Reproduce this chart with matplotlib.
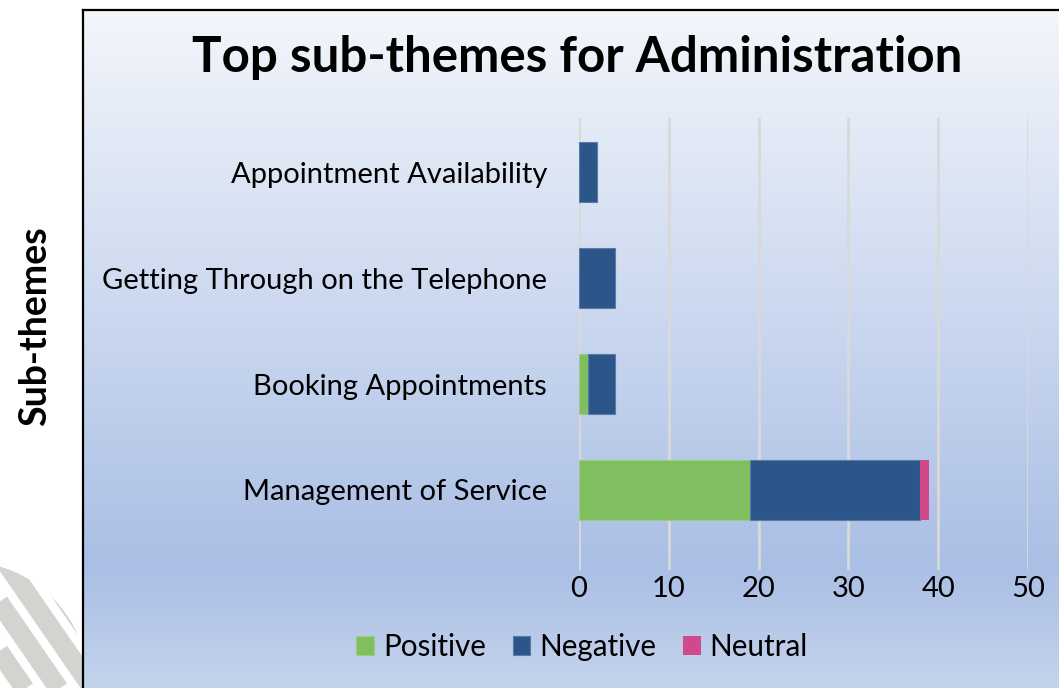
import matplotlib.pyplot as plt
import matplotlib.patches as mpatches
import numpy as np
from matplotlib.colors import LinearSegmentedColormap

plt.rcParams['font.family'] = ['Lato', 'DejaVu Sans']

# data (bottom to top)
categories = ['Management of Service', 'Booking Appointments',
              'Getting Through on the Telephone', 'Appointment Availability']
positive = [19, 1, 0, 0]
negative = [19, 3, 4, 2]
neutral = [1, 0, 0, 0]
xticks = [0, 10, 20, 30, 40, 50]

W, H = 1059, 688
fig = plt.figure(figsize=(W / 100, H / 100), dpi=100)

# decorative grey stripes bottom left (behind the chart box)
deco = fig.add_axes([0, 0, 1, 1])
deco.set_xlim(0, W)
deco.set_ylim(H, 0)
deco.axis('off')
circ = mpatches.Circle((-35, 685), 123.5, transform=deco.transData)
for x0 in np.arange(-200, 150, 34):
    ln, = deco.plot([x0, x0 + 150], [560, 560 + 150 * 1.45],
                    color='#d3d3cf', lw=14, solid_capstyle='butt')
    ln.set_clip_path(circ)

# chart area with gradient fill
box = fig.add_axes([83 / W, 0, 1 - 83 / W, 1 - 10 / H])
grad_cmap = LinearSegmentedColormap.from_list(
    'bg', [(0, '#f3f6fb'), (0.82, '#aabfe5'), (1, '#c4d3ec')])
box.imshow(np.linspace(0, 1, 256).reshape(-1, 1), aspect='auto',
           cmap=grad_cmap, extent=[0, 1, 0, 1])
box.set_xticks([])
box.set_yticks([])
for s in box.spines.values():
    s.set_color('black')
    s.set_linewidth(1.6)
box.spines['right'].set_visible(False)
box.spines['bottom'].set_visible(False)

# bar axes
ax = fig.add_axes([579 / W, (H - 570) / H, (1028 - 579) / W, (570 - 118) / H])
ax.patch.set_alpha(0)
y = np.arange(len(categories))
h = 0.566
ax.barh(y, positive, height=h, color='#80bf60', edgecolor='#9ccb84', lw=0.8, zorder=3, label='Positive')
ax.barh(y, negative, left=positive, height=h, color='#2c5589',
        edgecolor='#5a7aa8', lw=0.8, zorder=3, label='Negative')
left2 = np.array(positive) + np.array(negative)
ax.barh(y, neutral, left=left2, height=h, color='#d04a8b', lw=0, zorder=3, label='Neutral')

ax.set_xlim(0, 50)
ax.set_ylim(-0.755, 3.51)
ax.set_xticks(xticks)
ax.set_yticks(y)
ax.set_yticklabels(categories)
ax.grid(axis='x', color='#d9d9d9', lw=2, zorder=0)
ax.tick_params(length=0, labelsize=21, colors='black')
ax.tick_params(axis='y', pad=23)
ax.tick_params(axis='x', pad=4)
for s in ax.spines.values():
    s.set_visible(False)

fig.text(577 / W, 1 - 58 / H, 'Top sub-themes for Administration',
         ha='center', va='center', fontsize=35.5, fontweight='bold')
fig.text(35 / W, 1 - 326 / H, 'Sub-themes', rotation=90,
         ha='center', va='center', fontsize=27, fontweight='bold')

handles, labels = ax.get_legend_handles_labels()
fig.legend(handles, labels, loc='center', bbox_to_anchor=(582 / W, 1 - 647 / H),
           ncol=3, frameon=False, fontsize=21.3, handlelength=0.6,
           handleheight=0.6, handletextpad=0.3, columnspacing=0.9)

fig.savefig('out.png', dpi=100)
